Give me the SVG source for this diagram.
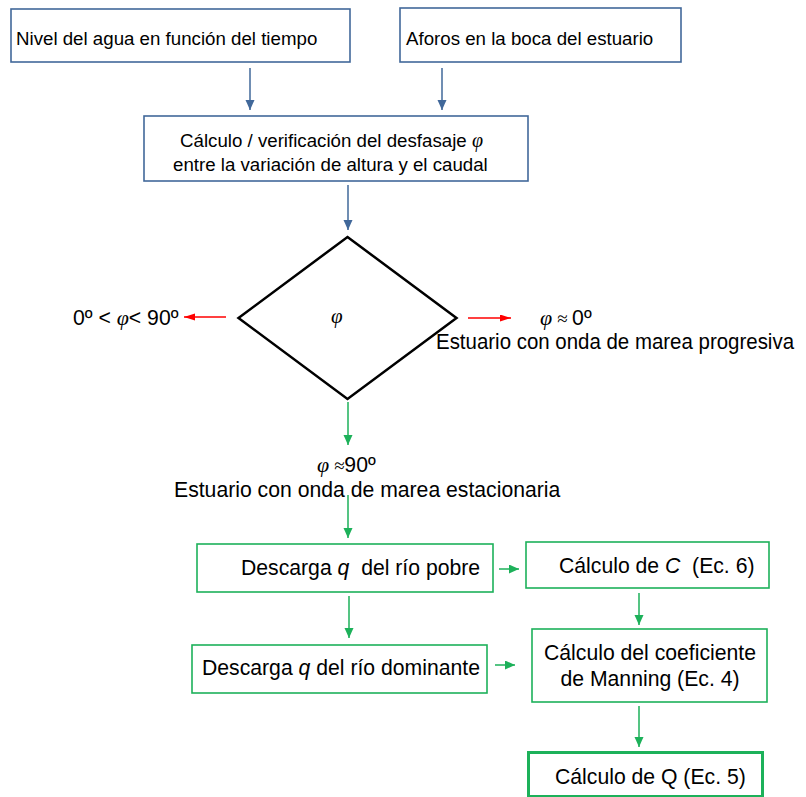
<svg xmlns="http://www.w3.org/2000/svg" width="806" height="797" viewBox="0 0 806 797">
<style>
.t{font-family:"Liberation Sans",Arial,sans-serif;fill:#000}
.s{font-size:18.7px}
.b{font-size:21.2px}
.g{font-family:"Liberation Serif","Times New Roman",serif;font-style:italic}
.bx{fill:#fff;stroke:#41689A;stroke-width:1.6}
.gx{fill:#fff;stroke:#1DB15A;stroke-width:1.6}
.cb{stroke:#41689A;stroke-width:1.5;fill:none;marker-end:url(#ab)}
.cg{stroke:#1DB15A;stroke-width:1.5;fill:none;marker-end:url(#ag)}
.cr{stroke:#FF0000;stroke-width:1.5;fill:none;marker-end:url(#ar)}
</style>
<defs>
<marker id="ab" markerUnits="userSpaceOnUse" markerWidth="10" markerHeight="10" refX="10" refY="4.5" orient="auto"><path d="M0,0 L10,4.5 L0,9 z" fill="#41689A"/></marker>
<marker id="ag" markerUnits="userSpaceOnUse" markerWidth="10" markerHeight="10" refX="10" refY="4.5" orient="auto"><path d="M0,0 L10,4.5 L0,9 z" fill="#1DB15A"/></marker>
<marker id="ar" markerUnits="userSpaceOnUse" markerWidth="12" markerHeight="10" refX="11" refY="3.5" orient="auto"><path d="M0,0 L11,3.5 L0,7 z" fill="#FF0000"/></marker>
</defs>
<rect width="806" height="797" fill="#fff"/>
<g id="connectors">
<line class="cb" x1="250" y1="68" x2="250" y2="110"/>
<line class="cb" x1="442" y1="68" x2="442" y2="110"/>
<line class="cb" x1="348" y1="185" x2="348" y2="230"/>
<line class="cr" x1="226" y1="317" x2="184" y2="317"/>
<line class="cr" x1="468" y1="318" x2="511" y2="318"/>
<line class="cg" x1="348" y1="402" x2="348" y2="445"/>
<line class="cg" x1="348" y1="495" x2="348" y2="538"/>
<line class="cg" x1="349" y1="596" x2="349" y2="638"/>
<line class="cg" x1="499" y1="569" x2="519" y2="569"/>
<line class="cg" x1="495" y1="665" x2="515" y2="665"/>
<line class="cg" x1="639" y1="593" x2="639" y2="625"/>
<line class="cg" x1="639" y1="706" x2="639" y2="747"/>
</g>
<g id="n1"><rect class="bx" x="11" y="9" width="339" height="53"/><text class="t s" x="16" y="45">Nivel del agua en función del tiempo</text></g>
<g id="n2"><rect class="bx" x="400" y="8" width="281" height="54"/><text class="t s" x="406" y="45">Aforos en la boca del estuario</text></g>
<g id="n3"><rect class="bx" x="144" y="116" width="384" height="65"/>
<text class="t s" x="180" y="147">Cálculo / verificación del desfasaje <tspan class="g" font-size="20">φ</tspan></text>
<text class="t s" x="173" y="171">entre la variación de altura y el caudal</text></g>
<g id="n4"><polygon points="347.5,237 456.5,318 347.5,399 238.5,318" fill="#fff" stroke="#000" stroke-width="2.5"/>
<text class="t g" font-size="21" x="331" y="323">φ</text></g>
<g id="l1"><text class="t b" x="73" y="325" xml:space="preserve">0º &lt; <tspan class="g" font-size="22">φ</tspan>&lt; 90º</text></g>
<g id="l2"><text class="t b" x="540" y="325"><tspan class="g" font-size="22">φ</tspan><tspan class="g" font-size="19"> ≈ </tspan>0º</text>
<text class="t b" x="436" y="349" textLength="358" lengthAdjust="spacingAndGlyphs">Estuario con onda de marea progresiva</text></g>
<g id="l3"><text class="t b" x="317" y="472"><tspan class="g" font-size="22">φ</tspan><tspan class="g" font-size="19"> ≈</tspan>90º</text>
<text class="t b" x="174" y="497">Estuario con onda de marea estacionaria</text></g>
<g id="n5"><rect class="gx" x="197" y="544" width="296" height="48"/><text class="t b" x="241" y="575" xml:space="preserve">Descarga <tspan font-style="italic">q</tspan>  del río pobre</text></g>
<g id="n6"><rect class="gx" x="192" y="645" width="295" height="48"/><text class="t b" x="202" y="675">Descarga <tspan font-style="italic">q</tspan> del río dominante</text></g>
<g id="n7"><rect class="gx" x="526" y="542" width="243" height="46"/><text class="t b" x="559" y="573" xml:space="preserve">Cálculo de <tspan font-style="italic">C</tspan>  (Ec. 6)</text></g>
<g id="n8"><rect class="gx" x="532" y="629" width="235" height="73"/>
<text class="t b" x="650" y="660" text-anchor="middle">Cálculo del coeficiente</text>
<text class="t b" x="650" y="686" text-anchor="middle">de Manning (Ec. 4)</text></g>
<g id="n9"><rect x="528.5" y="752.5" width="234" height="44" fill="#fff" stroke="#1DB15A" stroke-width="3"/><text class="t b" x="555" y="784">Cálculo de Q (Ec. 5)</text></g>
</svg>
